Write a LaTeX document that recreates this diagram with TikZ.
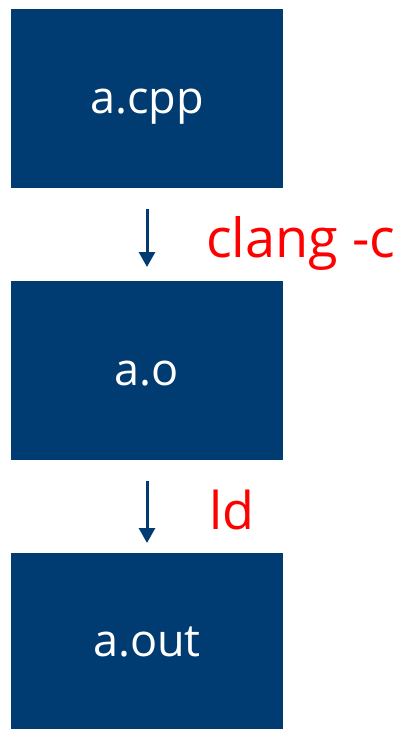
\documentclass[tikz,border=0pt]{standalone}
\usepackage{fontspec}
\setmainfont{Open Sans}
\usetikzlibrary{arrows.meta}
\definecolor{boxblue}{HTML}{003C71}
\definecolor{lblred}{HTML}{FF0000}
\newcommand{\boxtext}[1]{\raisebox{-15pt}[0pt][0pt]{#1}}
\begin{document}
\begin{tikzpicture}[x=1pt,y=-1pt,
  filebox/.style={fill=boxblue,draw=none,minimum width=272pt,minimum height=179pt,inner sep=0pt,text=white,font=\fontsize{45}{50}\selectfont},
  flow/.style={draw=boxblue,line width=3pt,-{Triangle[width=16pt,length=15pt]}},
  cmd/.style={text=lblred,inner sep=0pt,anchor=base west}]
\useasboundingbox (0,0) rectangle (402,729);
\node[filebox] (cpp) at (147,98) {\boxtext{a.cpp}};
\node[filebox] (o) at (147,370) {\boxtext{a.o}};
\node[filebox,minimum height=176pt] (out) at (147,641) {\boxtext{a.out}};
\coordinate (a1s) at (147,209);
\coordinate (a1e) at (147,267);
\coordinate (a2s) at (147,481);
\coordinate (a2e) at (147,543);
\draw[flow] (a1s) -- (a1e);
\draw[flow] (a2s) -- (a2e);
\node[cmd,font=\fontsize{54}{58}\selectfont] (clang) at (206,257) {clang -c};
\node[cmd,font=\fontsize{52}{56}\selectfont] (ld) at (209,529) {ld};
\end{tikzpicture}
\end{document}
